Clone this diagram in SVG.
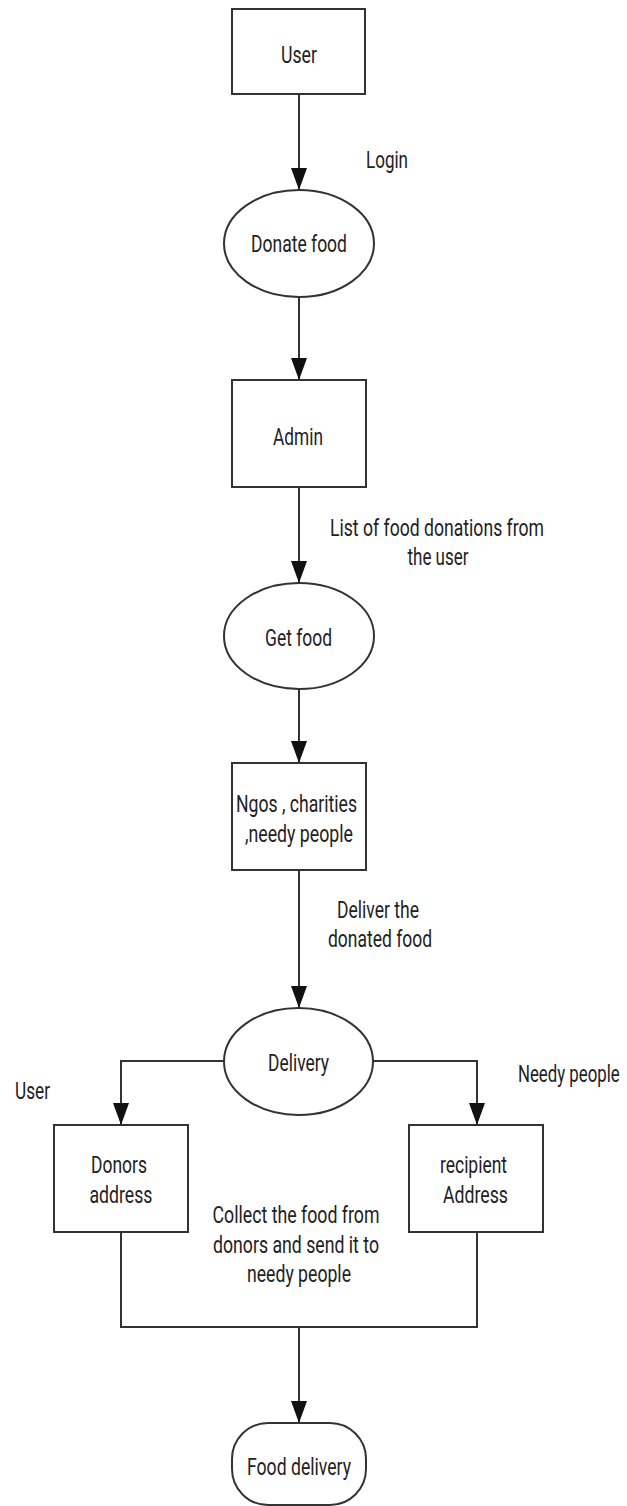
<svg xmlns="http://www.w3.org/2000/svg" width="627" height="1506" viewBox="0 0 627 1506">
<style>
.shape{fill:#fff;stroke:#333;stroke-width:2}
.conn{fill:none;stroke:#333;stroke-width:2}
text{font-family:Roboto,"Liberation Sans",sans-serif;font-size:23px;fill:#222;text-anchor:middle}
.lbl{text-anchor:start}
</style>
<defs>
<marker id="arr" viewBox="0 0 22 16" refX="22" refY="8" markerWidth="22" markerHeight="16" markerUnits="userSpaceOnUse" orient="auto">
<path d="M0,0 L22,8 L0,16 z" fill="#111"/>
</marker>
</defs>
<rect width="627" height="1506" fill="#fff"/>
<g id="connectors">
<path class="conn" d="M299,94 V190" marker-end="url(#arr)"/>
<path class="conn" d="M299,297 V380" marker-end="url(#arr)"/>
<path class="conn" d="M299,487 V583" marker-end="url(#arr)"/>
<path class="conn" d="M299,689 V763" marker-end="url(#arr)"/>
<path class="conn" d="M299,870 V1008" marker-end="url(#arr)"/>
<path class="conn" d="M224,1061 H121 V1125" marker-end="url(#arr)"/>
<path class="conn" d="M373,1061 H477 V1125" marker-end="url(#arr)"/>
<path class="conn" d="M121,1232 V1327 H477 V1232"/>
<path class="conn" d="M299,1327 V1423" marker-end="url(#arr)"/>
</g>
<g id="labels">
<text class="lbl" x="366" y="168" textLength="42" lengthAdjust="spacingAndGlyphs">Login</text>
<text x="437" y="536" textLength="214" lengthAdjust="spacingAndGlyphs">List of food donations from</text>
<text x="438" y="565" textLength="61" lengthAdjust="spacingAndGlyphs">the user</text>
<text x="378" y="918" textLength="82" lengthAdjust="spacingAndGlyphs">Deliver the</text>
<text x="380" y="947" textLength="104" lengthAdjust="spacingAndGlyphs">donated food</text>
<text class="lbl" x="15" y="1099" textLength="35" lengthAdjust="spacingAndGlyphs">User</text>
<text class="lbl" transform="translate(518,1082) scale(0.73,1)" x="0" y="0">Needy people</text>
<text x="296" y="1223" textLength="167" lengthAdjust="spacingAndGlyphs">Collect the food from</text>
<text x="296" y="1253" textLength="166" lengthAdjust="spacingAndGlyphs">donors and send it to</text>
<text x="299" y="1282" textLength="104" lengthAdjust="spacingAndGlyphs">needy people</text>
</g>
<g id="user">
<rect class="shape" x="232" y="9" width="133" height="85"/>
<text x="299" y="63" textLength="36" lengthAdjust="spacingAndGlyphs">User</text>
</g>
<g id="donate-food">
<ellipse class="shape" cx="299" cy="243.5" rx="75" ry="53.5"/>
<text x="299" y="252" textLength="96" lengthAdjust="spacingAndGlyphs">Donate food</text>
</g>
<g id="admin">
<rect class="shape" x="232" y="380" width="134" height="107"/>
<text x="298" y="445" textLength="50" lengthAdjust="spacingAndGlyphs">Admin</text>
</g>
<g id="get-food">
<ellipse class="shape" cx="299" cy="636" rx="75" ry="53"/>
<text x="298.5" y="646" textLength="67" lengthAdjust="spacingAndGlyphs">Get food</text>
</g>
<g id="ngos">
<rect class="shape" x="232" y="763" width="134" height="107"/>
<text x="296.5" y="812" textLength="121" lengthAdjust="spacingAndGlyphs">Ngos , charities</text>
<text x="299" y="842" textLength="108" lengthAdjust="spacingAndGlyphs">,needy people</text>
</g>
<g id="delivery">
<ellipse class="shape" cx="298.5" cy="1061.5" rx="74.5" ry="53.5"/>
<text x="298.5" y="1071" textLength="61" lengthAdjust="spacingAndGlyphs">Delivery</text>
</g>
<g id="donors-address">
<rect class="shape" x="54" y="1125" width="134" height="107"/>
<text x="119" y="1173" textLength="56" lengthAdjust="spacingAndGlyphs">Donors</text>
<text x="121" y="1203" textLength="63" lengthAdjust="spacingAndGlyphs">address</text>
</g>
<g id="recipient-address">
<rect class="shape" x="409" y="1125" width="134" height="107"/>
<text x="473.5" y="1173" textLength="67" lengthAdjust="spacingAndGlyphs">recipient</text>
<text x="475.5" y="1203" textLength="65" lengthAdjust="spacingAndGlyphs">Address</text>
</g>
<g id="food-delivery">
<rect class="shape" x="232" y="1423" width="134" height="82" rx="36" ry="36"/>
<text x="299" y="1475" textLength="104" lengthAdjust="spacingAndGlyphs">Food delivery</text>
</g>
</svg>
